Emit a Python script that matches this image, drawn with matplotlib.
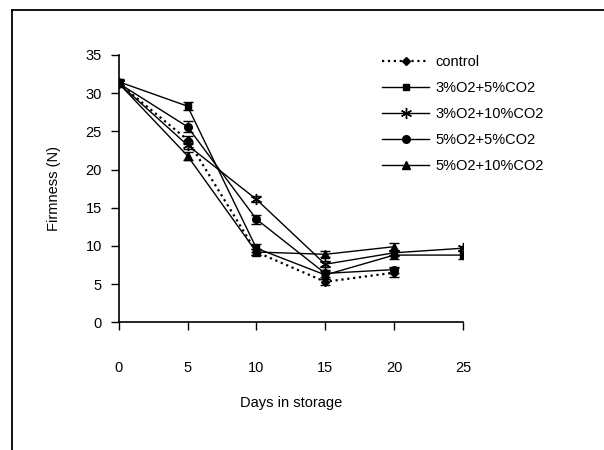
import matplotlib
matplotlib.use("Agg")
import matplotlib.pyplot as plt
from matplotlib.lines import Line2D

plt.rcParams['font.family'] = ['Liberation Sans', 'DejaVu Sans']

# storage days
days = [0, 5, 10, 15, 20, 25]

# firmness (N) per treatment
control = [31.3, 23.9, 9.2, 5.3, 6.5]
o3_co5 = [31.5, 28.3, 9.7, 6.2, 8.8, 8.8]
o3_co10 = [31.3, 23.2, 16.1, 7.6, 9.1, 9.7]
o5_co5 = [31.3, 25.6, 13.5, 6.4, 6.9]
o5_co10 = [31.3, 21.8, 9.2, 8.9, 9.9]

# error bars (standard error)
control_err = [0.4, 0.5, 0.4, 0.4, 0.6]
o3_co5_err = [0.4, 0.5, 0.5, 0.5, 0.5, 0.5]
o3_co10_err = [0.3, 0.5, 0.4, 0.4, 0.4, 0.3]
o5_co5_err = [0.4, 0.7, 0.6, 0.5, 0.4]
o5_co10_err = [0.4, 0.5, 0.4, 0.4, 0.5]

labels = ["control", "3%O2+5%CO2", "3%O2+10%CO2", "5%O2+5%CO2", "5%O2+10%CO2"]

FS = 10.5

fig = plt.figure(figsize=(6.04, 4.5), dpi=100)
ax = fig.add_axes([0.1964, 0.2838, 0.5702, 0.594])

series = [
    (control, control_err, "D", ":", 1.6, 4.5),
    (o3_co5, o3_co5_err, "s", "-", 1.0, 5.0),
    (o3_co10, o3_co10_err, (6, 2, 0), "-", 1.0, 8.0),
    (o5_co5, o5_co5_err, "o", "-", 1.0, 5.5),
    (o5_co10, o5_co10_err, "^", "-", 1.0, 5.5),
]

handles = []
for (vals, err, mk, ls, lw, ms), lab in zip(series, labels):
    x = days[:len(vals)]
    ax.errorbar(x, vals, yerr=err, fmt="none", ecolor="black",
                elinewidth=1.0, capsize=3.5, capthick=1.0)
    line, = ax.plot(x, vals, color="black", linestyle=ls, linewidth=lw,
                    marker=mk, markersize=ms, markerfacecolor="black",
                    markeredgecolor="black", markeredgewidth=1.0, label=lab)
    handles.append(line)

ax.set_xlim(0, 25)
ax.set_ylim(0, 35)
ax.set_xticks(days)
ax.set_yticks(range(0, 36, 5))
ax.spines["top"].set_visible(False)
ax.spines["right"].set_visible(False)
ax.spines["left"].set_linewidth(1.2)
ax.spines["bottom"].set_linewidth(1.2)
ax.tick_params(axis="x", direction="out", length=6, width=1.0, pad=22, labelsize=FS)
ax.tick_params(axis="y", direction="out", length=6, width=1.0, pad=6, labelsize=FS)

ax.set_xlabel("Days in storage", fontsize=FS, labelpad=15)
ax.set_ylabel("Firmness (N)", fontsize=FS, labelpad=18)

leg = ax.legend(handles=handles, loc="upper left", bbox_to_anchor=(0.749, 1.022),
                frameon=False, fontsize=FS, handlelength=3.2, handletextpad=0.45,
                labelspacing=0.82, borderaxespad=0)
leg.set_clip_on(False)

# outer frame (top and left edges only)
fig.add_artist(Line2D([11.5 / 604, 1.0], [1 - 9.5 / 450, 1 - 9.5 / 450],
                      transform=fig.transFigure, color="black", linewidth=1.3))
fig.add_artist(Line2D([11.5 / 604, 11.5 / 604], [0.0, 1 - 9.5 / 450],
                      transform=fig.transFigure, color="black", linewidth=1.3))

fig.savefig("out.png", dpi=100)
